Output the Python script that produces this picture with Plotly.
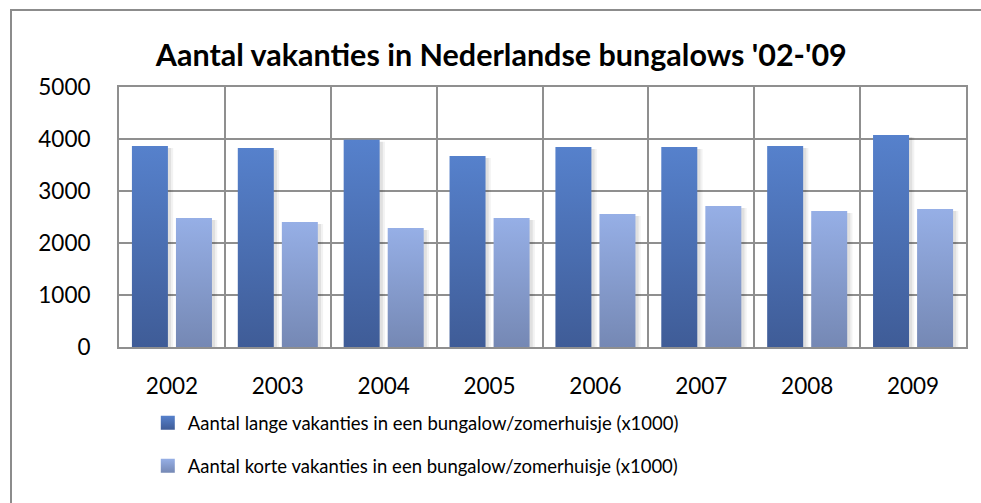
import plotly.graph_objects as go

# Holiday counts (x1000) per year
years = ["2002", "2003", "2004", "2005", "2006", "2007", "2008", "2009"]
long_stays = [3865, 3827, 3987, 3673, 3846, 3846, 3865, 4077]
short_stays = [2481, 2404, 2288, 2481, 2558, 2712, 2615, 2654]

series_names = [
    "Aantal lange vakanties in een bungalow/zomerhuisje (x1000)",
    "Aantal korte vakanties in een bungalow/zomerhuisje (x1000)",
]
y_ticks = [0, 1000, 2000, 3000, 4000, 5000]

FONT = "Lato, Carlito, Calibri, sans-serif"
GRID = "#8f8f8f"

# (top colour, bottom colour, offset from category centre)
styles = [
    ("#5681CC", "#3F5C97", -0.208),
    ("#96AFE6", "#7588B4", 0.208),
]
HALF_W = 0.17

fig = go.Figure()

for values, name, (top, bottom, offset) in zip([long_stays, short_stays], series_names, styles):
    for i, v in enumerate(values):
        x0, x1 = i + offset - HALF_W, i + offset + HALF_W
        # soft drop shadow
        for dx, alpha in [(0.05, 0.05), (0.03, 0.07)]:
            fig.add_trace(go.Scatter(
                x=[x0 + dx, x1 + dx, x1 + dx, x0 + dx, x0 + dx],
                y=[-60, -60, v - 40, v - 40, -60],
                fill="toself", mode="none",
                fillcolor=f"rgba(0,0,0,{alpha})",
                showlegend=False, hoverinfo="skip",
            ))
        fig.add_trace(go.Scatter(
            x=[x0, x1, x1, x0, x0],
            y=[0, 0, v, v, 0],
            fill="toself", mode="none",
            fillgradient=dict(type="vertical", colorscale=[[0, bottom], [1, top]]),
            name=name, showlegend=False,
            hovertemplate=f"{years[i]}<br>{name}: {v}<extra></extra>",
        ))

# legend entries
for k, (name, (top, bottom, _)) in enumerate(zip(series_names, styles)):
    fig.add_trace(go.Scatter(
        x=[None], y=[None], mode="markers", name=name,
        legendgroup=f"g{k}",
        marker=dict(symbol="square", size=14, color=top,
                    gradient=dict(type="vertical", color=bottom)),
    ))

fig.update_layout(
    width=981, height=503,
    margin=dict(l=119, r=15, t=87, b=156),
    paper_bgcolor="white", plot_bgcolor="white",
    font=dict(family=FONT, size=22.5, color="#000000"),
    title=dict(
        text="<b>Aantal vakanties in Nederlandse bungalows '02-'09</b>",
        font=dict(family=FONT, size=30.5, color="#000000"),
        x=0.511, xanchor="center", xref="container",
        y=1 - 55 / 503, yanchor="middle", yref="container",
    ),
    showlegend=True,
    legend=dict(
        x=0.034, xanchor="left", y=-0.22, yanchor="top",
        font=dict(family=FONT, size=18.5), tracegroupgap=16,
        bgcolor="rgba(0,0,0,0)",
    ),
    shapes=[dict(
        type="rect", xref="paper", yref="paper",
        x0=(11 - 119) / 847, x1=1.2, y0=-0.7, y1=(347 - 10) / 260,
        line=dict(color="#8c8c8c", width=2), fillcolor="rgba(0,0,0,0)",
        layer="below",
    )],
)

fig.update_xaxes(
    range=[-0.5, len(years) - 0.5],
    tickvals=list(range(len(years))), ticktext=years,
    showgrid=False, zeroline=False,
    showline=True, linecolor=GRID, linewidth=2, mirror=True,
    ticks="", ticklabelstandoff=18,
    minor=dict(tickvals=[i - 0.5 for i in range(len(years) + 1)],
               showgrid=True, gridcolor=GRID, gridwidth=2, ticks=""),
    fixedrange=True,
)
fig.update_yaxes(
    range=[0, 5000], tickvals=y_ticks,
    showgrid=True, gridcolor=GRID, gridwidth=2, zeroline=False,
    showline=True, linecolor=GRID, linewidth=2, mirror=True,
    ticks="", ticklabelstandoff=22,
    fixedrange=True,
)

fig.write_html("out.html")
